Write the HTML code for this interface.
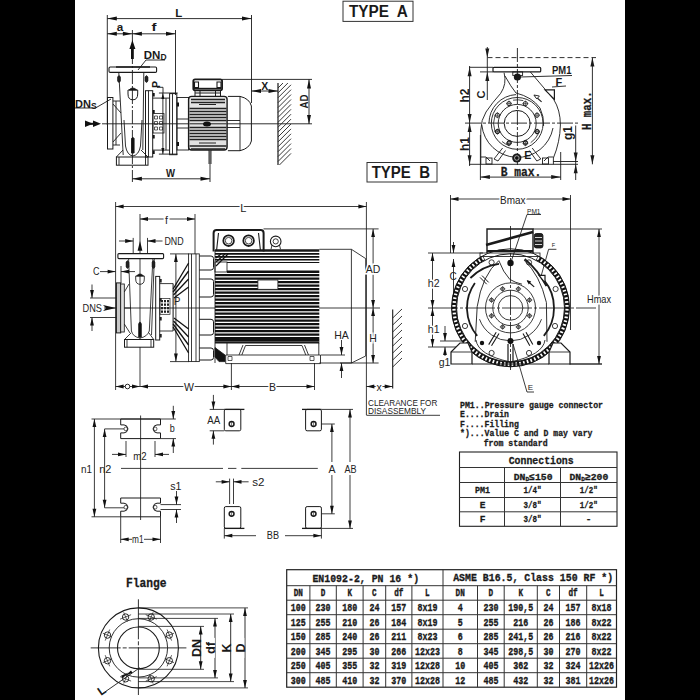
<!DOCTYPE html>
<html><head><meta charset="utf-8"><style>
html,body{margin:0;padding:0;background:#fff;width:700px;height:700px;overflow:hidden}
svg{display:block}
text{font-family:"Liberation Sans",sans-serif;fill:#1a1a1a}
.tb{font-family:"Liberation Mono",monospace;font-weight:bold;font-size:10.5px;fill:#1a1a1a;stroke:#1a1a1a;stroke-width:0.35}
.mono{font-family:"Liberation Mono",monospace;font-weight:bold;fill:#1a1a1a;stroke:#1a1a1a;stroke-width:0.3}
.bs{font-family:"Liberation Sans",sans-serif;font-weight:bold;fill:#1a1a1a}
.th{font-family:"Liberation Sans",sans-serif;fill:#222}
.ln{stroke:#222;fill:none}
</style></head><body>
<svg width="700" height="700" viewBox="0 0 700 700">
<!-- bars -->
<rect x="0" y="0" width="75" height="700" fill="#000"/>
<rect x="625" y="0" width="75" height="700" fill="#000"/>

<!-- typeA -->
<g stroke="#1a1a1a" fill="none" stroke-width="0.9">
<!-- dimension L -->
<line x1="107.3" y1="15" x2="107.3" y2="125"/>
<line x1="107.3" y1="18.6" x2="251.5" y2="18.6"/>
<line x1="251.5" y1="15" x2="251.5" y2="103"/>
<!-- a, f -->
<line x1="107.3" y1="33.8" x2="175.5" y2="33.8"/>
<line x1="175.5" y1="30" x2="175.5" y2="95"/>
<line x1="132.4" y1="30" x2="132.4" y2="182" stroke-dasharray="14,2,2,2"/>
<!-- DND leader -->
<polyline points="138,70 146,60 165,60"/>
<!-- DNs leader -->
<polyline points="75,108 95.5,108 111,99"/>
<!-- X -->
<line x1="251.5" y1="91" x2="278" y2="91"/>
<!-- AD -->
<line x1="222" y1="79.4" x2="312" y2="79.4"/>
<line x1="309" y1="79.4" x2="309" y2="124"/>
<!-- center line -->
<line x1="102" y1="123.8" x2="312" y2="123.8"/>
<!-- W -->
<line x1="132.4" y1="178.8" x2="210" y2="178.8"/>
<line x1="210" y1="151" x2="210" y2="182"/>
<!-- wall -->
<line x1="278" y1="83" x2="278" y2="165" stroke-width="1.2"/>
<!-- pump: discharge flange -->
<rect x="109" y="67" width="47.6" height="5.4" rx="1.2" stroke-width="1.1"/>
<line x1="116" y1="67" x2="150" y2="67" stroke-width="1.3"/>
<!-- neck -->
<path d="M118.8 72.4 L123.2 155 M143.8 72.4 L142.8 150"/>
<path d="M117.5 77 q1.5 -3 3 0 v4 q-1.5 3 -3 0 z M145 77 q1.5 -3 3 0 v4 q-1.5 3 -3 0 z" fill="#222" stroke-width="0.6"/>
<!-- bucket drop -->
<path d="M128 90 L137.7 90 L137.7 94 Q137.7 99.8 132.8 99.8 Q128 99.8 128 94 Z" stroke-width="1"/>
<path d="M129 90 Q132.8 86 136.7 90 Z" fill="#111"/>
<!-- suction flange -->
<rect x="107.5" y="97.5" width="5.4" height="51.5" stroke-width="1"/>
<path d="M112.9 101 L120 101 M112.9 145 L120 145 M113 104 L121 113 M113 142 L121 133 M116 101 L116 145"/>
<!-- volute bottom U -->
<path d="M124 120 L125.5 146 Q127 155 132.8 156 Q139 155 140.5 146 L142 120"/>
<path d="M131.5 138.6 Q132.8 136 134.1 138.6 L134.1 153 L131.5 153 Z" fill="#111"/>
<!-- casing flange -->
<rect x="145.5" y="90.7" width="7.2" height="66.3" stroke-width="1"/>
<line x1="148.5" y1="90.7" x2="148.5" y2="157"/>
<!-- foot -->
<rect x="116.4" y="157" width="31.6" height="8.2" stroke-width="1"/>
<path d="M119 157 L119 165 M145.5 157 L145.5 165"/>
<path d="M116.4 157 L123 150 M148 157 L141 150"/>
<!-- bracket -->
<path d="M152.7 98.1 L169.6 98.1 M152.7 150.1 L169.6 150.1 M166 98.1 L166 150.1"/>
<line x1="162.9" y1="93" x2="162.9" y2="154.1"/>
<line x1="158.9" y1="93" x2="177.7" y2="93"/>
<line x1="158.9" y1="154.1" x2="177.7" y2="154.1"/>
<path d="M157 87.3 L163 87.3 L163 93" stroke-width="0.9"/>
<rect x="153" y="113.6" width="11" height="19.4" stroke-width="0.8"/>
<path d="M154.5 116 h3 v3 h-3 z M159.5 116 h3 v3 h-3 z M154.5 121.5 h3 v3 h-3 z M159.5 121.5 h3 v3 h-3 z M154.5 127 h3 v3 h-3 z M159.5 127 h3 v3 h-3 z" stroke-width="0.7"/>
<!-- flange2 -->
<rect x="169.6" y="93.6" width="7.2" height="61.1" stroke-width="1"/>
<line x1="172.5" y1="93.6" x2="172.5" y2="154.7"/>
<!-- adapter -->
<rect x="177" y="97.5" width="11.6" height="52.5"/>
<line x1="177" y1="119" x2="188.6" y2="119"/><line x1="177" y1="128" x2="188.6" y2="128"/>
<!-- motor body -->
<rect x="188.6" y="96.4" width="38.5" height="53.6" rx="3" stroke-width="1.4" fill="#e2e2e2"/>
<!-- terminal box -->
<rect x="193.3" y="79.3" width="28.8" height="11" rx="1.8" stroke-width="1.8"/>
<line x1="194" y1="88.6" x2="221.5" y2="88.6" stroke-width="1.6"/>
<path d="M194.5 82 h4 v5.5 h-4 z M217 82 h4 v5.5 h-4 z" stroke-width="1.1"/>
<path d="M195 90.5 v5.5 M200 90.5 v5.5 M215.5 90.5 v5.5 M220.5 90.5 v5.5 M195 93 h25.5" stroke-width="1"/>
<!-- fan cover -->
<path d="M227.9 96.4 L240 96.4 Q249.5 98.5 251.4 106 L251.4 141 Q249.5 148.5 240 150.7 L227.9 150.7" stroke-width="1"/>
<line x1="240" y1="96.4" x2="240" y2="150.7"/>
<line x1="227" y1="120.5" x2="240" y2="120.5"/><line x1="227" y1="127.5" x2="240" y2="127.5"/>
<!-- shaft stub below -->
<path d="M209 150 v14 M211 150 v14"/>
</g>
<!-- motor fins -->
<g stroke="#222" stroke-width="1.5">
<line x1="191" y1="99.5" x2="225" y2="99.5"/>
<line x1="191" y1="102.5" x2="225" y2="102.5"/>
<line x1="189.5" y1="108.5" x2="226.5" y2="108.5"/>
<line x1="189.5" y1="111.5" x2="226.5" y2="111.5"/>
<line x1="189.5" y1="114.5" x2="226.5" y2="114.5"/>
<line x1="189.5" y1="117.5" x2="226.5" y2="117.5"/>
<line x1="189.5" y1="120.5" x2="226.5" y2="120.5"/>
<line x1="189.5" y1="127.5" x2="226.5" y2="127.5"/>
<line x1="189.5" y1="130.5" x2="226.5" y2="130.5"/>
<line x1="189.5" y1="133.5" x2="226.5" y2="133.5"/>
<line x1="189.5" y1="136.5" x2="226.5" y2="136.5"/>
<line x1="189.5" y1="139.5" x2="226.5" y2="139.5"/>
<line x1="189.5" y1="146" x2="226.5" y2="146"/><line x1="191" y1="149" x2="225" y2="149"/>
<path d="M199 104.5 h17 M199 143 h17" stroke-width="1"/><line x1="189.5" y1="123.8" x2="226.5" y2="123.8" stroke-width="1"/>
</g>
<ellipse cx="207" cy="124" rx="4" ry="2.5" fill="#111"/>
<g fill="#111"><rect x="152.7" y="93" width="2" height="3.5"/><rect x="152.7" y="110" width="2" height="3.5"/><rect x="152.7" y="135" width="2" height="3.5"/><rect x="152.7" y="150.5" width="2" height="3.5"/>
<rect x="176.8" y="102.5" width="2.2" height="4"/><rect x="176.8" y="142" width="2.2" height="4"/></g>
<!-- hatch wall -->
<g stroke="#222" stroke-width="0.9">
<line x1="278" y1="88" x2="283" y2="83"/>
<line x1="278" y1="92.9" x2="287.9" y2="83"/>
<line x1="278" y1="97.80000000000001" x2="291" y2="84.80000000000001"/>
<line x1="278" y1="102.70000000000002" x2="291" y2="89.70000000000002"/>
<line x1="278" y1="107.60000000000002" x2="291" y2="94.60000000000002"/>
<line x1="278" y1="112.50000000000003" x2="291" y2="99.50000000000003"/>
<line x1="278" y1="117.40000000000003" x2="291" y2="104.40000000000003"/>
<line x1="278" y1="122.30000000000004" x2="291" y2="109.30000000000004"/>
<line x1="278" y1="127.20000000000005" x2="291" y2="114.20000000000005"/>
<line x1="278" y1="132.10000000000005" x2="291" y2="119.10000000000005"/>
<line x1="278" y1="137.00000000000006" x2="291" y2="124.00000000000006"/>
<line x1="278" y1="141.90000000000006" x2="291" y2="128.90000000000006"/>
<line x1="278" y1="146.80000000000007" x2="291" y2="133.80000000000007"/>
<line x1="278" y1="151.70000000000007" x2="291" y2="138.70000000000007"/>
<line x1="278" y1="156.60000000000008" x2="291" y2="143.60000000000008"/>
<line x1="278" y1="161.50000000000009" x2="291" y2="148.50000000000009"/>
<line x1="279.4000000000001" y1="165" x2="291" y2="153.4000000000001"/>
</g>
<!-- arrows -->
<g fill="#111">
<path d="M107.3 18.6 l9.5 -2 v4 z"/><path d="M251.5 18.6 l-9.5 -2 v4 z"/>
<path d="M107.3 33.8 l9.5 -2 v4 z"/><path d="M132.4 33.8 l-9.5 -2 v4 z"/><path d="M132.4 33.8 l9.5 -2 v4 z"/><path d="M175.5 33.8 l-9.5 -2 v4 z"/>
<path d="M132.4 40 l-3 9 h6 z"/><rect x="131" y="48" width="2.8" height="11"/>
<path d="M85 120.5 l8 3.3 l-8 3.3 z"/><path d="M93 120.5 l8 3.3 l-8 3.3 z"/><rect x="85" y="122.8" width="8" height="2"/>
<path d="M251.5 91 l9.5 -2 v4 z"/><path d="M278 91 l-9.5 -2 v4 z"/>
<path d="M309 79.4 l-2 9 h4 z"/><path d="M309 124 l-2 -9 h4 z"/>
<path d="M132.4 178.8 l9.5 -2 v4 z"/><path d="M210 178.8 l-9.5 -2 v4 z"/>
<path d="M162.9 93 l-1.5 6 h3 z"/><path d="M162.9 154.1 l-1.5 -6 h3 z"/>
</g>
<g class="bs">
<text x="178.7" y="17" font-size="11" text-anchor="middle" class="bs" textLength="7" lengthAdjust="spacingAndGlyphs">L</text>
<text x="120" y="31" font-size="11" text-anchor="middle" class="bs" textLength="6.5" lengthAdjust="spacingAndGlyphs">a</text>
<text x="154" y="31" font-size="11" text-anchor="middle" class="bs" textLength="5" lengthAdjust="spacingAndGlyphs">f</text>
<text x="143.8" y="59" font-size="11.5" class="bs">DN<tspan font-size="8.5" dy="1">D</tspan></text>
<text x="75" y="108" font-size="11" class="bs">DN<tspan font-size="8.5" dy="1">S</tspan></text>
<text x="264.8" y="89.7" font-size="10" text-anchor="middle" class="bs" textLength="7" lengthAdjust="spacingAndGlyphs">X</text>
<text x="170.5" y="177" font-size="11" text-anchor="middle" class="bs" textLength="9" lengthAdjust="spacingAndGlyphs">W</text>
<text transform="translate(307.7,101.5) rotate(-90)" font-size="10.5" text-anchor="middle" class="bs" textLength="14" lengthAdjust="spacingAndGlyphs">AD</text>
<text transform="translate(159.5,84.5) rotate(-90)" font-size="10.5" text-anchor="middle" class="bs">P</text>
</g>

<!-- typeAend -->
<g stroke="#1a1a1a" fill="none" stroke-width="0.9">
<!-- dims -->
<line x1="487.5" y1="57.6" x2="596" y2="57.6" stroke-dasharray="5,3"/>
<line x1="469" y1="67.3" x2="493" y2="67.3"/>
<line x1="480" y1="71.9" x2="493" y2="71.9"/>
<line x1="487.3" y1="47" x2="487.3" y2="100"/>
<line x1="469.6" y1="66" x2="469.6" y2="166"/>
<line x1="465" y1="123.1" x2="580" y2="123.1" stroke-dasharray="16,2,3,2"/>
<line x1="469" y1="164.3" x2="578" y2="164.3"/>
<line x1="553" y1="161.5" x2="578" y2="161.5"/>
<line x1="592.4" y1="57.6" x2="592.4" y2="164.3"/>
<line x1="575.7" y1="125.5" x2="575.7" y2="180"/>
<line x1="480.4" y1="135" x2="480.4" y2="180"/>
<line x1="560.7" y1="152" x2="560.7" y2="180"/>
<line x1="480.4" y1="177.1" x2="560.7" y2="177.1"/>
<line x1="517.4" y1="48" x2="517.4" y2="165" stroke-dasharray="14,2,3,2"/>
<!-- flange -->
<rect x="493" y="67.3" width="47.7" height="4.6" rx="1" stroke-width="1.2"/>
<!-- volute outer -->
<path d="M504.1 72.7 Q507 84 500.7 93.3 Q492 103 486 112 Q481 120 480.8 130 L480.8 164.3"/>
<path d="M530.4 72 L553.6 99.3 Q560.4 110 560.4 125 Q560 142 553.4 158 L553.4 164.3"/>
<!-- tongue spiral -->
<path d="M505 76 Q511 87 516 93 Q532 97 540 108 Q544 116 543.6 126"/>
<!-- circle r36 bottom & r28.5 top left -->
<path d="M481.8 125 A36 36 0 0 0 553 128"/>
<path d="M489 123 A28.5 28.5 0 0 1 516 94.6"/>
<circle cx="517.2" cy="123.4" r="25.9"/>
<path d="M495.0 131.5 A23.6 23.6 0 0 1 495.0 115.3 M513.1 100.2 A23.6 23.6 0 0 1 523.3 100.6 M538.6 133.4 A23.6 23.6 0 0 1 530.7 142.7 M509.1 145.6 A23.6 23.6 0 0 1 502.0 141.5" stroke-width="0.8"/>
<circle cx="517.2" cy="123.4" r="19"/>
<circle cx="517.2" cy="123.4" r="13" stroke-width="1"/>
<!-- struts -->
<path d="M502.6 148 L494 159 L498 161 L505.5 150.5 M532.2 148 L540.8 159 L536.8 161 L529.3 150.5"/>
<path d="M480.8 157 L486 157 L490 161 M553.4 157 L548 157 L544 161"/>
<!-- F nozzle -->
<path d="M545 89.8 L554.4 89.8 L554.4 99.3 Z" fill="#fff" stroke-width="1.2"/>
<line x1="541.6" y1="101.8" x2="535" y2="96" stroke-width="1.1"/>
<path d="M533.9 95 l5.5 1 l-2.6 3 z" fill="#fff"/>
<!-- leaders -->
<line x1="520" y1="77" x2="572" y2="75.5"/>
<line x1="552" y1="87" x2="566" y2="86"/>
</g>
<g fill="#1a1a1a">
<circle cx="517.4" cy="77" r="3.6"/>
<rect x="512.8" y="71.9" width="9.8" height="3.5" fill="none" stroke="#1a1a1a" stroke-width="0.9"/>
<circle cx="516.8" cy="158" r="4.6"/>
<circle cx="516.8" cy="158" r="2.3" fill="#111" stroke="#fff" stroke-width="0.6"/>
<g stroke="#1a1a1a" stroke-width="0.9" fill="none">
<circle cx="537.0" cy="131.6" r="2.1"/><path d="M534.0 131.6 h6 M537.0 128.6 v6" stroke-width="0.6"/><circle cx="525.4" cy="143.2" r="2.1"/><path d="M522.4 143.2 h6 M525.4 140.2 v6" stroke-width="0.6"/><circle cx="509.0" cy="143.2" r="2.1"/><path d="M506.0 143.2 h6 M509.0 140.2 v6" stroke-width="0.6"/><circle cx="497.4" cy="131.6" r="2.1"/><path d="M494.4 131.6 h6 M497.4 128.6 v6" stroke-width="0.6"/><circle cx="497.4" cy="115.2" r="2.1"/><path d="M494.4 115.2 h6 M497.4 112.2 v6" stroke-width="0.6"/><circle cx="509.0" cy="103.6" r="2.1"/><path d="M506.0 103.6 h6 M509.0 100.6 v6" stroke-width="0.6"/><circle cx="525.4" cy="103.6" r="2.1"/><path d="M522.4 103.6 h6 M525.4 100.6 v6" stroke-width="0.6"/><circle cx="537.0" cy="115.2" r="2.1"/><path d="M534.0 115.2 h6 M537.0 112.2 v6" stroke-width="0.6"/>
<circle cx="537.3" cy="131.6" r="2"/><circle cx="525.5" cy="142.4" r="2"/><circle cx="509.3" cy="142.4" r="2"/><circle cx="497.5" cy="131.6" r="2"/>
<rect x="486" y="158" width="6" height="6"/><rect x="542.5" y="158" width="6" height="6"/>
</g>
<!-- arrows -->
<path d="M469.6 67.3 l-2 9 h4 z"/><path d="M469.6 123.1 l-2 -9 h4 z"/><path d="M469.6 123.1 l-2 9 h4 z"/><path d="M469.6 164.3 l-2 -9 h4 z"/>
<path d="M592.4 57.6 l-2 9 h4 z"/><path d="M592.4 164.3 l-2 -9 h4 z"/>
<path d="M487.3 57.6 l-2 -9 h4 z"/><path d="M487.3 71.9 l-2 9 h4 z"/>
<path d="M575.7 161.5 l-2 -9 h4 z"/><path d="M575.7 164.3 l-2 9 h4 z"/>
<path d="M480.4 177.1 l9.5 -2 v4 z"/><path d="M560.7 177.1 l-9.5 -2 v4 z"/>
</g>
<g>
<text transform="translate(469.3,95.5) rotate(-90)" font-size="12" text-anchor="middle" class="bs">h2</text>
<text transform="translate(469.3,144) rotate(-90)" font-size="12" text-anchor="middle" class="bs">h1</text>
<text transform="translate(485.3,94.5) rotate(-90)" font-size="11" text-anchor="middle" class="bs">C</text>
<text transform="translate(571.5,133) rotate(-90)" font-size="12" text-anchor="middle" class="bs">g1</text>
<text transform="translate(590.7,110.7) rotate(-90)" font-size="13.5" text-anchor="middle" class="mono" textLength="38.6" lengthAdjust="spacingAndGlyphs" style="white-space:pre">H max.</text>
<text x="500.7" y="175.8" font-size="13.5" class="mono" textLength="40.7" lengthAdjust="spacingAndGlyphs">B max.</text>
<text x="552" y="74.3" font-size="11.5" class="bs" textLength="19.4" lengthAdjust="spacingAndGlyphs">PM1</text>
<text x="555.4" y="86" font-size="11" class="bs">F</text>
<text x="524.3" y="158.5" font-size="10.5" class="bs">E</text>
</g>

<!-- typeB -->
<g stroke="#1a1a1a" fill="none" stroke-width="0.85">
<line x1="115.6" y1="202" x2="115.6" y2="390"/>
<line x1="115.6" y1="206.5" x2="366.4" y2="206.5"/>
<line x1="366.4" y1="202" x2="366.4" y2="415"/>
<line x1="140" y1="214" x2="140" y2="253.6"/><line x1="140" y1="258.6" x2="140" y2="339"/><line x1="140" y1="347" x2="140" y2="386.5"/>
<line x1="140" y1="219" x2="195" y2="219"/>
<line x1="195" y1="214" x2="195" y2="254"/>
<line x1="119" y1="241" x2="133.2" y2="241"/><line x1="147.5" y1="241" x2="162.5" y2="241"/><line x1="133.2" y1="237.9" x2="133.2" y2="253.2"/><line x1="147.5" y1="237.9" x2="147.5" y2="253.2"/>

<line x1="100" y1="271.6" x2="115.6" y2="271.6"/><line x1="121" y1="271.6" x2="135" y2="271.6"/>
<line x1="121" y1="266" x2="121" y2="283"/>
<line x1="90" y1="298" x2="117" y2="298"/><line x1="90" y1="317.5" x2="117" y2="317.5"/>
<line x1="92" y1="284.5" x2="92" y2="298"/><line x1="92" y1="317.5" x2="92" y2="331"/>
<line x1="104" y1="308" x2="215" y2="308"/><line x1="319" y1="308" x2="380" y2="308"/>
<line x1="115.6" y1="386.5" x2="314.5" y2="386.5"/><line x1="366.4" y1="386.5" x2="392.7" y2="386.5"/>
<line x1="231.4" y1="363" x2="231.4" y2="390"/>
<line x1="314.5" y1="363" x2="314.5" y2="390"/>
<line x1="263.5" y1="228.9" x2="378.6" y2="228.9"/>
<line x1="373.1" y1="228.9" x2="373.1" y2="363"/>
<line x1="340" y1="363" x2="378.6" y2="363"/>
<line x1="321" y1="355" x2="345" y2="355"/>
<line x1="341.5" y1="340" x2="341.5" y2="355"/><line x1="341.5" y1="363" x2="341.5" y2="378"/>
<line x1="392.7" y1="309.5" x2="392.7" y2="388.4" stroke-width="1.1"/>
<line x1="392.7" y1="318" x2="402" y2="309"/>
<line x1="392.7" y1="325" x2="402" y2="316"/>
<line x1="392.7" y1="332" x2="402" y2="323"/>
<line x1="392.7" y1="339" x2="402" y2="330"/>
<line x1="392.7" y1="346" x2="402" y2="337"/>
<line x1="392.7" y1="353" x2="402" y2="344"/>
<line x1="392.7" y1="360" x2="402" y2="351"/>
<line x1="392.7" y1="367" x2="402" y2="358"/>
<line x1="366.4" y1="415.3" x2="440" y2="415.3"/>
<rect x="117.9" y="253.6" width="45.7" height="5" rx="1" stroke-width="1.1"/>
<path d="M128.6 258.6 L131.4 331 Q133 337 140 338 Q147 337 149.3 331 L152.9 258.6"/>
<path d="M154.3 258.6 L151.5 335"/>
<path d="M126 262 q1.5 -3 3 0 v5 q-1.5 3 -3 0 z M152 262 q1.5 -3 3 0 v5 q-1.5 3 -3 0 z" fill="#222" stroke-width="0.5"/>
<path d="M135.7 276 L144.3 276 L144.3 279 Q144.3 284.3 140 284.3 Q135.7 284.3 135.7 279 Z"/>
<path d="M136.5 276 Q140 272 143.5 276 Z" fill="#111"/>
<path d="M138.7 324 Q140 320 141.3 324 L141.3 337 L138.7 337 Z" fill="#111"/>
<rect x="116.4" y="282.9" width="4.3" height="50" fill="#c8c8c8" stroke-width="1"/>
<rect x="120.7" y="284" width="3.6" height="48" fill="#e0e0e0"/>
<path d="M124.3 292 L129 284 M124.3 324 L130 333 M124.3 308 L131 308"/>
<rect x="155.7" y="276.4" width="4" height="63.6" stroke-width="1"/>
<rect x="124.5" y="339.5" width="29.2" height="7.7" stroke-width="1"/>
<path d="M127 339.5 L127 347.2 M151 339.5 L151 347.2 M124.5 339.5 L131 333 M153.7 339.5 L149 333"/>
<path d="M159.7 283.6 L173.1 283.6 M159.7 331 L173.1 331"/>
<rect x="160" y="298.6" width="10" height="15.7" stroke-width="0.7"/>
<line x1="175.9" y1="254" x2="175.9" y2="361.6"/>
<line x1="170" y1="253.9" x2="189" y2="253.9"/><line x1="170" y1="361.6" x2="189" y2="361.6"/>
<rect x="188.6" y="253.9" width="10.7" height="107.7"/>
<line x1="191.5" y1="253.9" x2="191.5" y2="361.6"/><line x1="196" y1="253.9" x2="196" y2="361.6"/>
<path d="M199.3 256 L211 256 Q213.5 256 213.5 258.5 L213.5 267.5 Q213.5 270 211 270 L199.3 270" stroke-width="1"/>
<path d="M199.3 279 L211 279 Q213.5 279 213.5 281.5 L213.5 294.5 Q213.5 297 211 297 L199.3 297" stroke-width="1"/>
<path d="M199.3 319.3 L211 319.3 Q213.5 319.3 213.5 321.8 L213.5 332.5 Q213.5 335 211 335 L199.3 335" stroke-width="1"/>
<path d="M199.3 348 L211 348 Q213.5 348 213.5 350.5 L213.5 357.5 Q213.5 360 211 360 L199.3 360" stroke-width="1"/>
<path d="M213.6 251.4 L213.6 233 Q213.6 230 216.6 230 L260.6 230 Q263.6 230 263.6 233 L263.6 251.4" stroke-width="2"/>
<path d="M218.5 233 L216.5 251 M258.5 233 L260.5 251" stroke-width="1.1"/>
<circle cx="228.6" cy="240.7" r="5.3" stroke-width="1.8"/><circle cx="228.6" cy="240.7" r="3.3" stroke-width="0.8"/>
<circle cx="248.6" cy="240.7" r="5.3" stroke-width="1.8"/><circle cx="248.6" cy="240.7" r="3.3" stroke-width="0.8"/>
<circle cx="275.7" cy="241.4" r="5.3" stroke-width="1.1"/><circle cx="275.7" cy="241.4" r="2.6"/>
<path d="M271 249.3 L272 245 M280.5 249.3 L279.5 245"/>
<line x1="215" y1="250.5" x2="319.3" y2="250.5" stroke-width="2.6"/>
<line x1="215" y1="250" x2="215" y2="363"/>
<rect x="215" y="262" width="12" height="10"/>
<path d="M319.3 249.3 L351.4 249.3 L365.7 258.6 L365.7 356 L351.4 363 L319.3 363"/>
<line x1="351.4" y1="249.3" x2="351.4" y2="363"/>
<path d="M225.7 363.6 L225.7 355 L320.5 355 L320.5 363.6 Z"/>
<path d="M227 343 L227 355 M318.8 343 L318.8 355 M241.8 355 L245.5 345.5 L302 345.5 L305.8 355 M239 355 L243 345 M308.5 355 L304.5 345"/>
<line x1="215" y1="342.6" x2="319.3" y2="342.6" stroke-width="2"/>
<path d="M215 347.6 L225 355 L225 361.6 L219 361.6 L215 357 Z" fill="#111"/>
<path d="M228 356.5 h4 v4 h-4 z M310 356.5 h4 v4 h-4 z" stroke-width="0.7"/>
</g>
<g stroke="#111" stroke-width="1.3">
<line x1="173.1" y1="289" x2="188.6" y2="263"/>
<line x1="173.1" y1="292" x2="188.6" y2="271"/>
<line x1="173.5" y1="295" x2="188.6" y2="279"/>
<line x1="174" y1="298" x2="188.6" y2="287"/>
<line x1="173.1" y1="327" x2="188.6" y2="353"/>
<line x1="173.1" y1="324" x2="188.6" y2="345"/>
<line x1="173.5" y1="321" x2="188.6" y2="337"/>
<line x1="174" y1="318" x2="188.6" y2="329"/>
<line x1="173.1" y1="283.6" x2="173.1" y2="331" stroke-width="1"/>
</g>
<g fill="#222">
<rect x="161" y="300.0" width="2" height="2.3"/>
<rect x="161" y="303.5" width="2" height="2.3"/>
<rect x="161" y="307.0" width="2" height="2.3"/>
<rect x="161" y="310.5" width="2" height="2.3"/>
<rect x="164" y="300.0" width="2" height="2.3"/>
<rect x="164" y="303.5" width="2" height="2.3"/>
<rect x="164" y="307.0" width="2" height="2.3"/>
<rect x="164" y="310.5" width="2" height="2.3"/>
<rect x="167" y="300.0" width="2" height="2.3"/>
<rect x="167" y="303.5" width="2" height="2.3"/>
<rect x="167" y="307.0" width="2" height="2.3"/>
<rect x="167" y="310.5" width="2" height="2.3"/>
<rect x="159.7" y="279" width="2" height="3.5"/><rect x="159.7" y="298" width="2" height="3.5"/><rect x="159.7" y="317" width="2" height="3.5"/><rect x="159.7" y="334" width="2" height="3.5"/>
</g>
<g stroke="#111">
<line x1="215" y1="253.8" x2="319.3" y2="253.8" stroke-width="1.8"/>
<line x1="215" y1="256.8" x2="319.3" y2="256.8" stroke-width="1.8"/>
<line x1="215" y1="259.8" x2="319.3" y2="259.8" stroke-width="1.6"/>
<line x1="227" y1="262.5" x2="319.3" y2="262.5" stroke-width="1"/>
<line x1="227" y1="271.8" x2="319.3" y2="271.8" stroke-width="2.6"/>
<line x1="215" y1="275.2" x2="319.3" y2="275.2" stroke-width="2.2"/>
<line x1="215" y1="278.7" x2="319.3" y2="278.7" stroke-width="2.2"/>
<line x1="215" y1="282.2" x2="319.3" y2="282.2" stroke-width="2.2"/>
<line x1="215" y1="285.7" x2="319.3" y2="285.7" stroke-width="2.2"/>
<line x1="215" y1="289.2" x2="319.3" y2="289.2" stroke-width="2.2"/>
<line x1="215" y1="292.7" x2="319.3" y2="292.7" stroke-width="2.2"/>
<line x1="215" y1="296.2" x2="319.3" y2="296.2" stroke-width="2.2"/>
<line x1="215" y1="299.7" x2="319.3" y2="299.7" stroke-width="2.2"/>
<line x1="215" y1="303.2" x2="319.3" y2="303.2" stroke-width="2.2"/>
<line x1="215" y1="306.7" x2="319.3" y2="306.7" stroke-width="2.2"/>
<line x1="215" y1="310.2" x2="319.3" y2="310.2" stroke-width="2.2"/>
<line x1="215" y1="313.7" x2="319.3" y2="313.7" stroke-width="2.2"/>
<line x1="215" y1="317.2" x2="319.3" y2="317.2" stroke-width="2.2"/>
<line x1="215" y1="320.7" x2="319.3" y2="320.7" stroke-width="2.2"/>
<line x1="215" y1="324.2" x2="319.3" y2="324.2" stroke-width="2.2"/>
<line x1="215" y1="327.7" x2="319.3" y2="327.7" stroke-width="2.2"/>
<line x1="215" y1="331.2" x2="319.3" y2="331.2" stroke-width="2.2"/>
<line x1="215" y1="334.7" x2="319.3" y2="334.7" stroke-width="2.2"/>
<line x1="215" y1="338.2" x2="319.3" y2="338.2" stroke-width="2.2"/>
<line x1="215" y1="340.2" x2="319.3" y2="340.2" stroke-width="2.6"/>
<path d="M216 262 L225 254 M216 258 L221 254 M216 266 L228 254" stroke-width="1.2"/>
</g>
<rect x="257.9" y="280" width="20" height="9.3" fill="#fff" stroke="#222" stroke-width="0.8"/>
<g fill="#111">
<path d="M115.6 206.5 l8 -1.9 v3.8 z"/>
<path d="M366.4 206.5 l-8 -1.9 v3.8 z"/>
<path d="M140 219 l8 -1.9 v3.8 z"/>
<path d="M195 219 l-8 -1.9 v3.8 z"/>
<path d="M133.2 241 l-8 -1.9 v3.8 z"/>
<path d="M147.5 241 l8 -1.9 v3.8 z"/>
<path d="M115.6 271.6 l-8 -1.9 v3.8 z"/>
<path d="M121 271.6 l8 -1.9 v3.8 z"/>
<path d="M92 298 l-1.9 -8 h3.8 z"/>
<path d="M92 317.5 l-1.9 8 h3.8 z"/>
<path d="M116 308 l-13 -3 l3 3 l-3 3 z"/>
<path d="M140 241 l-2.4 9.7 h4.8 z"/>
<path d="M175.9 254 l-1.9 8 h3.8 z"/>
<path d="M175.9 361.6 l-1.9 -8 h3.8 z"/>
<path d="M373.1 228.9 l-1.9 8 h3.8 z"/>
<path d="M373.1 308 l-1.9 -8 h3.8 z"/>
<path d="M373.1 308 l-1.9 8 h3.8 z"/>
<path d="M373.1 363 l-1.9 -8 h3.8 z"/>
<path d="M341.5 355 l-1.9 -8 h3.8 z"/>
<path d="M341.5 363 l-1.9 8 h3.8 z"/>
<path d="M115.6 386.5 l8 -1.9 v3.8 z"/>
<path d="M140 386.5 l-8 -1.9 v3.8 z"/>
<path d="M140 386.5 l8 -1.9 v3.8 z"/>
<path d="M231.4 386.5 l-8 -1.9 v3.8 z"/>
<path d="M231.4 386.5 l8 -1.9 v3.8 z"/>
<path d="M314.5 386.5 l-8 -1.9 v3.8 z"/>
<path d="M366.4 386.5 l8 -1.9 v3.8 z"/>
<path d="M392.7 386.5 l-8 -1.9 v3.8 z"/>
</g>
<text x="243.4" y="211.5" font-size="11" class="th" text-anchor="middle" stroke="#fff" stroke-width="3" paint-order="stroke">L</text>
<text x="166.5" y="223.5" font-size="10.5" class="th" text-anchor="middle" stroke="#fff" stroke-width="3" paint-order="stroke">f</text>
<text x="164.4" y="245.2" font-size="11" class="th" textLength="19.2" lengthAdjust="spacingAndGlyphs">DND</text>
<text x="93" y="274.6" font-size="10" class="th" textLength="6.5" lengthAdjust="spacingAndGlyphs">C</text>
<text x="82.5" y="312.4" font-size="11" class="th" textLength="19.5" lengthAdjust="spacingAndGlyphs">DNS</text>
<text x="177" y="305" font-size="10" class="th" text-anchor="middle" >P</text>
<text x="373.1" y="272.5" font-size="10.5" class="th" text-anchor="middle" stroke="#fff" stroke-width="3" paint-order="stroke">AD</text>
<text x="373.1" y="341.5" font-size="10.5" class="th" text-anchor="middle" stroke="#fff" stroke-width="3" paint-order="stroke">H</text>
<text x="341.5" y="338.5" font-size="10.5" class="th" text-anchor="middle" >HA</text>
<circle cx="127.5" cy="386.5" r="2.3" fill="#fff" stroke="#111" stroke-width="0.9"/>
<text x="189" y="390.5" font-size="10.5" class="th" text-anchor="middle" stroke="#fff" stroke-width="3" paint-order="stroke">W</text>
<text x="272.5" y="390.5" font-size="10.5" class="th" text-anchor="middle" stroke="#fff" stroke-width="3" paint-order="stroke">B</text>
<text x="379" y="390.5" font-size="10.5" class="th" text-anchor="middle" stroke="#fff" stroke-width="3" paint-order="stroke">x</text>
<text x="368" y="406.4" font-size="8.4" class="th" textLength="69.3" lengthAdjust="spacingAndGlyphs">CLEARANCE FOR</text>
<text x="368" y="414" font-size="8.4" class="th" textLength="58" lengthAdjust="spacingAndGlyphs">DISASSEMBLY</text>
<!-- typeBend -->
<g stroke="#1a1a1a" fill="none" stroke-width="0.85">
<line x1="450.5" y1="195" x2="450.5" y2="253"/><line x1="570.5" y1="195" x2="570.5" y2="330"/>
<line x1="450.5" y1="199" x2="570.5" y2="199"/>
<line x1="533" y1="229" x2="602" y2="229"/><line x1="569" y1="364" x2="602" y2="364"/>
<line x1="599" y1="229" x2="599" y2="364"/>
<line x1="428" y1="253" x2="483" y2="253"/>
<line x1="432.5" y1="253" x2="432.5" y2="347"/>
<line x1="428" y1="308" x2="596" y2="308" stroke-dasharray="30,2,3,2"/>
<line x1="428" y1="347" x2="468" y2="347"/><line x1="440" y1="341" x2="468" y2="341"/>
<line x1="445" y1="326" x2="445" y2="341"/><line x1="445" y1="347" x2="445" y2="356"/>
<line x1="453.5" y1="242" x2="453.5" y2="253"/><line x1="453.5" y1="259" x2="453.5" y2="300"/>
<line x1="510.5" y1="226" x2="510.5" y2="370" stroke-dasharray="25,2,3,2"/>
<line x1="511" y1="262" x2="527" y2="214.5"/><line x1="527" y1="214.5" x2="541" y2="214.5"/>
<polyline points="556.4,249.3 548.6,249.3 541.4,275"/>
<polyline points="513,344 527,392 534,392"/>
<path d="M487 253 L487 229 L533 229 L533 253" stroke-width="1.4"/>
<line x1="486" y1="245" x2="533" y2="232" stroke-width="2.5"/>
<line x1="487" y1="251" x2="533" y2="251" stroke-width="2"/>
<rect x="534.3" y="233.6" width="8.6" height="14.3" rx="2" fill="#222" stroke-width="1"/><path d="M535 237.5 h7 M535 241 h7 M535 244.5 h7" stroke="#fff" stroke-width="0.8"/>
<rect x="480" y="253" width="60" height="3.5"/>
<circle cx="510.5" cy="307.8" r="59" stroke-width="1"/>
<circle cx="510.5" cy="307.8" r="54" stroke-width="1"/>
</g>
<path d="M484.0 257.9 A56.5 56.5 0 1 0 537.0 257.9" stroke="#111" stroke-width="5" fill="none"/>
<g stroke="#fff" stroke-width="1.7">
<line x1="565.4" y1="309.7" x2="568.6" y2="309.8"/>
<line x1="565.1" y1="313.4" x2="568.3" y2="313.7"/>
<line x1="564.6" y1="317.1" x2="567.8" y2="317.7"/>
<line x1="563.8" y1="320.8" x2="566.9" y2="321.6"/>
<line x1="562.8" y1="324.4" x2="565.9" y2="325.4"/>
<line x1="561.6" y1="327.9" x2="564.5" y2="329.1"/>
<line x1="560.1" y1="331.4" x2="563.0" y2="332.8"/>
<line x1="558.4" y1="334.7" x2="561.1" y2="336.3"/>
<line x1="556.4" y1="337.9" x2="559.1" y2="339.7"/>
<line x1="554.2" y1="341.0" x2="556.8" y2="342.9"/>
<line x1="551.9" y1="343.9" x2="554.3" y2="346.0"/>
<line x1="549.3" y1="346.6" x2="551.6" y2="348.9"/>
<line x1="546.6" y1="349.2" x2="548.7" y2="351.6"/>
<line x1="543.7" y1="351.5" x2="545.6" y2="354.1"/>
<line x1="540.6" y1="353.7" x2="542.4" y2="356.4"/>
<line x1="537.4" y1="355.7" x2="539.0" y2="358.4"/>
<line x1="534.1" y1="357.4" x2="535.5" y2="360.3"/>
<line x1="530.6" y1="358.9" x2="531.8" y2="361.8"/>
<line x1="527.1" y1="360.1" x2="528.1" y2="363.2"/>
<line x1="523.5" y1="361.1" x2="524.3" y2="364.2"/>
<line x1="519.8" y1="361.9" x2="520.4" y2="365.1"/>
<line x1="516.1" y1="362.4" x2="516.4" y2="365.6"/>
<line x1="512.4" y1="362.7" x2="512.5" y2="365.9"/>
<line x1="508.6" y1="362.7" x2="508.5" y2="365.9"/>
<line x1="504.9" y1="362.4" x2="504.6" y2="365.6"/>
<line x1="501.2" y1="361.9" x2="500.6" y2="365.1"/>
<line x1="497.5" y1="361.1" x2="496.7" y2="364.2"/>
<line x1="493.9" y1="360.1" x2="492.9" y2="363.2"/>
<line x1="490.4" y1="358.9" x2="489.2" y2="361.8"/>
<line x1="486.9" y1="357.4" x2="485.5" y2="360.3"/>
<line x1="483.6" y1="355.7" x2="482.0" y2="358.4"/>
<line x1="480.4" y1="353.7" x2="478.6" y2="356.4"/>
<line x1="477.3" y1="351.5" x2="475.4" y2="354.1"/>
<line x1="474.4" y1="349.2" x2="472.3" y2="351.6"/>
<line x1="471.7" y1="346.6" x2="469.4" y2="348.9"/>
<line x1="469.1" y1="343.9" x2="466.7" y2="346.0"/>
<line x1="466.8" y1="341.0" x2="464.2" y2="342.9"/>
<line x1="464.6" y1="337.9" x2="461.9" y2="339.7"/>
<line x1="462.6" y1="334.7" x2="459.9" y2="336.3"/>
<line x1="460.9" y1="331.4" x2="458.0" y2="332.8"/>
<line x1="459.4" y1="327.9" x2="456.5" y2="329.1"/>
<line x1="458.2" y1="324.4" x2="455.1" y2="325.4"/>
<line x1="457.2" y1="320.8" x2="454.1" y2="321.6"/>
<line x1="456.4" y1="317.1" x2="453.2" y2="317.7"/>
<line x1="455.9" y1="313.4" x2="452.7" y2="313.7"/>
<line x1="455.6" y1="309.7" x2="452.4" y2="309.8"/>
<line x1="455.6" y1="305.9" x2="452.4" y2="305.8"/>
<line x1="455.9" y1="302.2" x2="452.7" y2="301.9"/>
<line x1="456.4" y1="298.5" x2="453.2" y2="297.9"/>
<line x1="457.2" y1="294.8" x2="454.1" y2="294.0"/>
<line x1="458.2" y1="291.2" x2="455.1" y2="290.2"/>
<line x1="459.4" y1="287.7" x2="456.5" y2="286.5"/>
<line x1="460.9" y1="284.2" x2="458.0" y2="282.8"/>
<line x1="462.6" y1="280.9" x2="459.9" y2="279.3"/>
<line x1="464.6" y1="277.7" x2="461.9" y2="275.9"/>
<line x1="466.8" y1="274.6" x2="464.2" y2="272.7"/>
<line x1="469.1" y1="271.7" x2="466.7" y2="269.6"/>
<line x1="471.7" y1="269.0" x2="469.4" y2="266.7"/>
<line x1="474.4" y1="266.4" x2="472.3" y2="264.0"/>
<line x1="477.3" y1="264.1" x2="475.4" y2="261.5"/>
<line x1="480.4" y1="261.9" x2="478.6" y2="259.2"/>
<line x1="483.6" y1="259.9" x2="482.0" y2="257.2"/>
<line x1="537.4" y1="259.9" x2="539.0" y2="257.2"/>
<line x1="540.6" y1="261.9" x2="542.4" y2="259.2"/>
<line x1="543.7" y1="264.1" x2="545.6" y2="261.5"/>
<line x1="546.6" y1="266.4" x2="548.7" y2="264.0"/>
<line x1="549.3" y1="269.0" x2="551.6" y2="266.7"/>
<line x1="551.9" y1="271.7" x2="554.3" y2="269.6"/>
<line x1="554.2" y1="274.6" x2="556.8" y2="272.7"/>
<line x1="556.4" y1="277.7" x2="559.1" y2="275.9"/>
<line x1="558.4" y1="280.9" x2="561.1" y2="279.3"/>
<line x1="560.1" y1="284.2" x2="563.0" y2="282.8"/>
<line x1="561.6" y1="287.7" x2="564.5" y2="286.5"/>
<line x1="562.8" y1="291.2" x2="565.9" y2="290.2"/>
<line x1="563.8" y1="294.8" x2="566.9" y2="294.0"/>
<line x1="564.6" y1="298.5" x2="567.8" y2="297.9"/>
<line x1="565.1" y1="302.2" x2="568.3" y2="301.9"/>
<line x1="565.4" y1="305.9" x2="568.6" y2="305.8"/>
</g>
<g stroke="#1a1a1a" fill="none" stroke-width="0.85">
<path d="M451 364 L451 352 L460 343 L468 343 L472 352 L472 364 Z" fill="#fff" stroke-width="1.2"/>
<path d="M549 364 L549 352 L553 343 L561 343 L570 352 L570 364 Z" fill="#fff" stroke-width="1.2"/>
<line x1="451" y1="352" x2="472" y2="352"/><line x1="549" y1="352" x2="570" y2="352"/>
<line x1="472" y1="364" x2="549" y2="364" stroke-width="1.2"/>
<line x1="570" y1="364" x2="602" y2="364"/>
<circle cx="491.6" cy="262.4" r="2.6"/>
<circle cx="529" cy="262.4" r="2.6"/>
<circle cx="465" cy="289" r="2.6"/>
<circle cx="555.6" cy="289" r="2.6"/>
<circle cx="465" cy="326" r="2.6"/>
<circle cx="555" cy="326" r="2.6"/>
<circle cx="491.6" cy="353" r="2.6"/>
<circle cx="529" cy="353" r="2.6"/>
<path d="M499 260.4 Q482 275 477.2 306.6 L475.2 341.8 M499 261 Q503 272 509.8 279.4 Q516 283 522 284.2 M524 260 Q540 275 546.4 302.5 L547 341.8" stroke-width="0.9"/>
<path d="M477.2 335.9 A43.5 43.5 0 0 1 474.9 282.9 M543.8 279.9 A43.5 43.5 0 0 1 543.8 335.9 M470.4 278 Q482 266 499 263.8 M524.7 259 Q538 270 546.4 286.2" stroke-width="1.8"/><path d="M541.5 319.2 A33 33 0 0 1 479.5 319.2"/>
<circle cx="510.5" cy="307.9" r="25"/>
<circle cx="510.5" cy="307.9" r="17.7"/><circle cx="529.5" cy="315.8" r="1.8"/><path d="M526.7 315.8 h5.6 M529.5 313.0 v5.6" stroke-width="0.6"/><circle cx="518.4" cy="326.9" r="1.8"/><path d="M515.6 326.9 h5.6 M518.4 324.1 v5.6" stroke-width="0.6"/><circle cx="502.6" cy="326.9" r="1.8"/><path d="M499.8 326.9 h5.6 M502.6 324.1 v5.6" stroke-width="0.6"/><circle cx="491.5" cy="315.8" r="1.8"/><path d="M488.7 315.8 h5.6 M491.5 313.0 v5.6" stroke-width="0.6"/><circle cx="491.5" cy="300.0" r="1.8"/><path d="M488.7 300.0 h5.6 M491.5 297.2 v5.6" stroke-width="0.6"/><circle cx="502.6" cy="288.9" r="1.8"/><path d="M499.8 288.9 h5.6 M502.6 286.1 v5.6" stroke-width="0.6"/><circle cx="518.4" cy="288.9" r="1.8"/><path d="M515.6 288.9 h5.6 M518.4 286.1 v5.6" stroke-width="0.6"/><circle cx="529.5" cy="300.0" r="1.8"/><path d="M526.7 300.0 h5.6 M529.5 297.2 v5.6" stroke-width="0.6"/>
<circle cx="510.5" cy="307.9" r="12.3"/>

<path d="M480 277.4 L486.7 284.2 M482 275.6 L488.7 282.4" stroke-width="1"/>
<path d="M496.2 332.3 L488.7 344.6 M499 333.5 L491.5 345.8 M526 332.3 L532.8 344.6 M523 333.5 L529.8 345.8" stroke-width="1.1"/>
<path d="M476 340 Q478 355 510.5 362 Q543 355 545 340"/>
<path d="M508 344 L508 362 M513 344 L513 362" stroke-width="1.2"/>
<path d="M539 275.4 L545 282.8 L545 275.4 Z" fill="#fff" stroke-width="1.2"/>
<line x1="534.2" y1="286.9" x2="527.5" y2="281" stroke-width="1.2"/>
</g>
<g fill="#111">
<circle cx="510.5" cy="263" r="3.2"/><circle cx="510.5" cy="341" r="3"/>
<circle cx="482" cy="343" r="2.2"/><circle cx="539" cy="343" r="2.2"/>
<path d="M450.5 199 l8 -1.9 v3.8 z"/>
<path d="M570.5 199 l-8 -1.9 v3.8 z"/>
<path d="M599 229 l-1.9 8 h3.8 z"/>
<path d="M599 364 l-1.9 -8 h3.8 z"/>
<path d="M432.5 253 l-1.9 8 h3.8 z"/>
<path d="M432.5 308 l-1.9 -8 h3.8 z"/>
<path d="M432.5 308 l-1.9 8 h3.8 z"/>
<path d="M432.5 347 l-1.9 -8 h3.8 z"/>
<path d="M445 341 l-1.9 -8 h3.8 z"/>
<path d="M445 347 l-1.9 8 h3.8 z"/>
<path d="M453.5 253 l-1.9 -8 h3.8 z"/>
<path d="M453.5 259 l-1.9 8 h3.8 z"/>
<path d="M526.7 280.1 l2 4.5 l2.5 -3 z"/>
</g>
<text x="500" y="203.5" font-size="10.5" class="th" textLength="25.5" lengthAdjust="spacingAndGlyphs" stroke="#fff" stroke-width="3" paint-order="stroke">Bmax</text>
<text x="587" y="303.4" font-size="10.5" class="th" textLength="24" lengthAdjust="spacingAndGlyphs" stroke="#fff" stroke-width="3" paint-order="stroke">Hmax</text>
<text x="527" y="213.8" font-size="8" class="th" textLength="13.5" lengthAdjust="spacingAndGlyphs">PM1</text>
<text x="433.7" y="286.6" font-size="10.5" class="th" text-anchor="middle" stroke="#fff" stroke-width="3" paint-order="stroke">h2</text>
<text x="433.7" y="332.5" font-size="10.5" class="th" text-anchor="middle" stroke="#fff" stroke-width="3" paint-order="stroke">h1</text>
<text x="453.2" y="280" font-size="10" class="th" text-anchor="middle" >C</text>
<text x="444.5" y="365.5" font-size="10.5" class="th" text-anchor="middle" >g1</text>
<text x="553.5" y="246.6" font-size="5.5" class="th" text-anchor="middle" >F</text>
<text x="530.5" y="390" font-size="8" class="th" text-anchor="middle" >E</text>
<!-- feet -->
<g stroke="#1a1a1a" fill="none" stroke-width="0.85">
<path d="M120.7 419 L160.5 419 L160.5 424.9 L157 424.9 A3.5 4 0 0 0 157 432.9 L160.5 432.9 L160.5 438.6 L120.7 438.6 L120.7 432.9 L124 432.9 A3.5 4 0 0 0 124 424.9 L120.7 424.9 Z" stroke-width="1"/>
<circle cx="126" cy="428.9" r="2" stroke-width="0.7"/><circle cx="155" cy="428.9" r="2" stroke-width="0.7"/>
<path d="M120.7 498 L160.5 498 L160.5 503.2 L157 503.2 A3.5 4 0 0 0 157 511.2 L160.5 511.2 L160.5 516.8 L120.7 516.8 L120.7 511.2 L124 511.2 A3.5 4 0 0 0 124 503.2 L120.7 503.2 Z" stroke-width="1"/>
<circle cx="126" cy="507.2" r="2" stroke-width="0.7"/><circle cx="155" cy="507.2" r="2" stroke-width="0.7"/>
<line x1="91.5" y1="419" x2="175.8" y2="419"/>
<line x1="91.5" y1="516.8" x2="120.7" y2="516.8"/>
<line x1="94.4" y1="419" x2="94.4" y2="516.8"/>
<line x1="104.6" y1="428.9" x2="104.6" y2="507.8"/>
<line x1="104.6" y1="428.9" x2="124" y2="428.9"/><line x1="104.6" y1="507.8" x2="124" y2="507.8"/>
<line x1="140.6" y1="415.5" x2="140.6" y2="520"/>
<line x1="121" y1="468.4" x2="223" y2="468.4"/><line x1="228" y1="468.4" x2="236.4" y2="468.4"/><line x1="241.3" y1="468.4" x2="317.8" y2="468.4"/>
<line x1="126" y1="441" x2="126" y2="457"/><line x1="155" y1="441" x2="155" y2="457"/>
<line x1="112" y1="454.4" x2="126" y2="454.4"/><line x1="155" y1="454.4" x2="169" y2="454.4"/>
<line x1="160.5" y1="438.6" x2="176" y2="438.6"/>
<line x1="173.3" y1="405.8" x2="173.3" y2="419"/><line x1="173.3" y1="438.6" x2="173.3" y2="453"/>
<line x1="160.5" y1="504.6" x2="181" y2="504.6"/><line x1="160.5" y1="509.5" x2="181" y2="509.5"/>
<line x1="176.5" y1="491" x2="176.5" y2="504.6"/><line x1="176.5" y1="509.5" x2="176.5" y2="523"/>
<line x1="120.7" y1="516.8" x2="120.7" y2="543"/><line x1="160.5" y1="516.8" x2="160.5" y2="543"/>
<line x1="120.7" y1="539.3" x2="132" y2="539.3"/><line x1="144" y1="539.3" x2="160.5" y2="539.3"/>
<rect x="224.3" y="409.4" width="16.5" height="21.400000000000034" rx="1.5" stroke-width="1"/>
<line x1="224.3" y1="409.4" x2="244.4" y2="409.4" stroke-width="1.3"/>
<rect x="305.6" y="409.4" width="15.799999999999955" height="21.400000000000034" rx="1.5" stroke-width="1"/>
<line x1="302" y1="409.4" x2="321.4" y2="409.4" stroke-width="1.3"/>
<rect x="224.3" y="506.6" width="16.5" height="21.799999999999955" rx="1.5" stroke-width="1"/>
<line x1="224.3" y1="528.4" x2="244.4" y2="528.4" stroke-width="1.3"/>
<rect x="305.6" y="506.6" width="15.799999999999955" height="21.799999999999955" rx="1.5" stroke-width="1"/>
<line x1="302" y1="528.4" x2="321.4" y2="528.4" stroke-width="1.3"/>
<circle cx="231.6" cy="424" r="2.4" stroke-width="1.5"/><line x1="231.6" y1="421.4" x2="231.6" y2="426.6" stroke-width="0.6"/>
<circle cx="313.6" cy="424" r="2.4" stroke-width="1.5"/><line x1="313.6" y1="421.4" x2="313.6" y2="426.6" stroke-width="0.6"/>
<circle cx="231.6" cy="513.8" r="2.4" stroke-width="1.5"/><line x1="231.6" y1="511.19999999999993" x2="231.6" y2="516.4" stroke-width="0.6"/>
<circle cx="313.6" cy="513.8" r="2.4" stroke-width="1.5"/><line x1="313.6" y1="511.19999999999993" x2="313.6" y2="516.4" stroke-width="0.6"/>
<line x1="209.7" y1="409.4" x2="224.3" y2="409.4"/><line x1="209.7" y1="430.8" x2="224.3" y2="430.8"/>
<line x1="213.4" y1="394.9" x2="213.4" y2="409.4"/><line x1="213.4" y1="430.8" x2="213.4" y2="444.6"/>
<line x1="229.6" y1="478.6" x2="229.6" y2="504"/><line x1="233.5" y1="478.6" x2="233.5" y2="504"/>
<line x1="215.8" y1="481.8" x2="229.6" y2="481.8"/><line x1="233.5" y1="481.8" x2="248.6" y2="481.8"/>
<line x1="321.4" y1="424" x2="334.8" y2="424"/><line x1="321.4" y1="513.8" x2="334.8" y2="513.8"/>
<line x1="321.4" y1="409.4" x2="353" y2="409.4"/><line x1="321.4" y1="528.4" x2="353" y2="528.4"/>
<line x1="331.9" y1="424" x2="331.9" y2="462"/><line x1="331.9" y1="475" x2="331.9" y2="513.8"/>
<line x1="350" y1="409.4" x2="350" y2="462"/><line x1="350" y1="475" x2="350" y2="528.4"/>
<line x1="224.3" y1="528.4" x2="224.3" y2="538.6"/><line x1="321.4" y1="528.4" x2="321.4" y2="538.6"/>
<line x1="224.3" y1="535.7" x2="256" y2="535.7"/><line x1="285" y1="535.7" x2="321.4" y2="535.7"/>
</g>
<g fill="#111">
<path d="M94.4 419 l-1.9 8 h3.8 z"/>
<path d="M94.4 516.8 l-1.9 -8 h3.8 z"/>
<path d="M104.6 428.9 l-1.9 8 h3.8 z"/>
<path d="M104.6 507.8 l-1.9 -8 h3.8 z"/>
<path d="M126 454.4 l-8 -1.9 v3.8 z"/>
<path d="M155 454.4 l8 -1.9 v3.8 z"/>
<path d="M173.3 419 l-1.9 -8 h3.8 z"/>
<path d="M173.3 438.6 l-1.9 8 h3.8 z"/>
<path d="M176.5 504.6 l-1.9 -8 h3.8 z"/>
<path d="M176.5 509.5 l-1.9 8 h3.8 z"/>
<path d="M120.7 539.3 l8 -1.9 v3.8 z"/>
<path d="M160.5 539.3 l-8 -1.9 v3.8 z"/>
<path d="M213.4 409.4 l-1.9 -8 h3.8 z"/>
<path d="M213.4 430.8 l-1.9 8 h3.8 z"/>
<path d="M229.6 481.8 l-8 -1.9 v3.8 z"/>
<path d="M233.5 481.8 l8 -1.9 v3.8 z"/>
<path d="M331.9 424 l-1.9 8 h3.8 z"/>
<path d="M331.9 513.8 l-1.9 -8 h3.8 z"/>
<path d="M350 409.4 l-1.9 8 h3.8 z"/>
<path d="M350 528.4 l-1.9 -8 h3.8 z"/>
<path d="M224.3 535.7 l8 -1.9 v3.8 z"/>
<path d="M321.4 535.7 l-8 -1.9 v3.8 z"/>
</g>
<text x="81" y="472.6" font-size="10" class="th" textLength="11" lengthAdjust="spacingAndGlyphs">n1</text>
<text x="99.3" y="472.6" font-size="10" class="th" textLength="12.1" lengthAdjust="spacingAndGlyphs">n2</text>
<text x="133.3" y="460" font-size="10" class="th" textLength="13.3" lengthAdjust="spacingAndGlyphs">m2</text>
<text x="169.7" y="431.8" font-size="10" class="th" textLength="5" lengthAdjust="spacingAndGlyphs">b</text>
<text x="170.2" y="489.6" font-size="10" class="th" textLength="11.2" lengthAdjust="spacingAndGlyphs">s1</text>
<text x="132" y="542.5" font-size="10" class="th" textLength="11.5" lengthAdjust="spacingAndGlyphs">m1</text>
<text x="207.3" y="424" font-size="10" class="th" textLength="12.9" lengthAdjust="spacingAndGlyphs">AA</text>
<text x="252.2" y="486" font-size="10" class="th" textLength="12.2" lengthAdjust="spacingAndGlyphs">s2</text>
<text x="328.5" y="472.6" font-size="10" class="th" textLength="7" lengthAdjust="spacingAndGlyphs">A</text>
<text x="344.5" y="472.6" font-size="10" class="th" textLength="12.1" lengthAdjust="spacingAndGlyphs">AB</text>
<text x="266.8" y="538.9" font-size="10" class="th" textLength="12.2" lengthAdjust="spacingAndGlyphs">BB</text>
<!-- notes -->
<text x="312.4" y="581.6" class="mono" font-size="11" textLength="106.7" lengthAdjust="spacingAndGlyphs">EN1092-2, PN 16 *)</text>
<text x="453.2" y="581.2" class="mono" font-size="11" textLength="159.9" lengthAdjust="spacingAndGlyphs">ASME B16.5, Class 150 RF *)</text>
<text x="460" y="407.8" class="mono" font-size="9.6" textLength="143" lengthAdjust="spacingAndGlyphs">PM1..Pressure gauge connector</text>
<text x="460" y="417.3" class="mono" font-size="9.6" textLength="49" lengthAdjust="spacingAndGlyphs">E....Drain</text>
<text x="460" y="426.8" class="mono" font-size="9.6" textLength="58.8" lengthAdjust="spacingAndGlyphs">F....Filling</text>
<text x="460" y="436.3" class="mono" font-size="9.6" textLength="132.5" lengthAdjust="spacingAndGlyphs">*)...Value C and D may vary</text>
<text x="483.7" y="445.8" class="mono" font-size="9.6" textLength="63.9" lengthAdjust="spacingAndGlyphs">from standard</text>
<!-- connections table -->
<rect x="459.5" y="452" width="157.5" height="74.3" fill="none" stroke="#222" stroke-width="1.1"/>
<line x1="459.5" y1="467.5" x2="617" y2="467.5" stroke="#333"/>
<line x1="459.5" y1="482.5" x2="617" y2="482.5" stroke="#333"/>
<line x1="459.5" y1="497.5" x2="617" y2="497.5" stroke="#333"/>
<line x1="459.5" y1="511.8" x2="617" y2="511.8" stroke="#333"/>
<line x1="504.5" y1="467.5" x2="504.5" y2="526.3" stroke="#333"/>
<line x1="560.5" y1="467.5" x2="560.5" y2="526.3" stroke="#333"/>
<text x="508.7" y="463.7" class="mono" font-size="11.5" textLength="65" lengthAdjust="spacingAndGlyphs">Connections</text>
<text x="513.7" y="479.5" class="mono" font-size="9.5" textLength="38.8" lengthAdjust="spacingAndGlyphs">DN<tspan font-size="6" dy="1">D</tspan><tspan dy="-1">≤150</tspan></text>
<text x="569.5" y="479.5" class="mono" font-size="9.5" textLength="38.8" lengthAdjust="spacingAndGlyphs">DN<tspan font-size="6" dy="1">D</tspan><tspan dy="-1">≥200</tspan></text>
<text x="482.5" y="493" class="mono" font-size="9.5" text-anchor="middle" textLength="15" lengthAdjust="spacingAndGlyphs">PM1</text>
<text x="482.5" y="507.5" class="mono" font-size="9.5" text-anchor="middle">E</text>
<text x="482.5" y="521.8" class="mono" font-size="9.5" text-anchor="middle">F</text>
<text x="532.5" y="493" class="mono" font-size="9.5" text-anchor="middle" textLength="18" lengthAdjust="spacingAndGlyphs">1/4"</text>
<text x="532.5" y="507.5" class="mono" font-size="9.5" text-anchor="middle" textLength="18" lengthAdjust="spacingAndGlyphs">3/8"</text>
<text x="532.5" y="521.8" class="mono" font-size="9.5" text-anchor="middle" textLength="18" lengthAdjust="spacingAndGlyphs">3/8"</text>
<text x="588.7" y="493" class="mono" font-size="9.5" text-anchor="middle" textLength="18" lengthAdjust="spacingAndGlyphs">1/2"</text>
<text x="588.7" y="507.5" class="mono" font-size="9.5" text-anchor="middle" textLength="18" lengthAdjust="spacingAndGlyphs">1/2"</text>
<text x="588.7" y="521.8" class="mono" font-size="9.5" text-anchor="middle">-</text>
<!-- Type boxes -->
<rect x="343" y="1.2" width="70" height="20.2" fill="none" stroke="#333" stroke-width="1"/>
<text x="348.9" y="17.2" class="bs" font-size="16" textLength="59" lengthAdjust="spacingAndGlyphs" style="white-space:pre">TYPE  A</text>
<rect x="367" y="162.5" width="70" height="19.5" fill="none" stroke="#333" stroke-width="1"/>
<text x="371.7" y="178.3" class="bs" font-size="16" textLength="58.3" lengthAdjust="spacingAndGlyphs" style="white-space:pre">TYPE  B</text>
<text x="125.9" y="587" class="mono" font-size="12.5" textLength="40.5" lengthAdjust="spacingAndGlyphs">Flange</text>

<!-- flange -->
<g stroke="#1a1a1a" fill="none" stroke-width="0.9">
<circle cx="138.4" cy="647.9" r="40" stroke-width="1.1"/>
<circle cx="138.4" cy="647.9" r="29.2"/>
<circle cx="138.4" cy="647.9" r="20.9" stroke-width="1.1"/>
<circle cx="169.3" cy="660.7" r="3.2"/>
<line x1="171.6" y1="655.2" x2="167.1" y2="666.3" stroke-width="0.7"/>
<line x1="164.7" y1="658.8" x2="174.0" y2="662.6" stroke-width="0.7"/>
<circle cx="151.2" cy="678.8" r="3.2"/>
<line x1="156.8" y1="676.6" x2="145.7" y2="681.1" stroke-width="0.7"/>
<line x1="149.3" y1="674.2" x2="153.1" y2="683.5" stroke-width="0.7"/>
<circle cx="125.6" cy="678.8" r="3.2"/>
<line x1="131.1" y1="681.1" x2="120.0" y2="676.6" stroke-width="0.7"/>
<line x1="127.5" y1="674.2" x2="123.7" y2="683.5" stroke-width="0.7"/>
<circle cx="107.5" cy="660.7" r="3.2"/>
<line x1="109.7" y1="666.3" x2="105.2" y2="655.2" stroke-width="0.7"/>
<line x1="112.1" y1="658.8" x2="102.8" y2="662.6" stroke-width="0.7"/>
<circle cx="107.5" cy="635.1" r="3.2"/>
<line x1="105.2" y1="640.6" x2="109.7" y2="629.5" stroke-width="0.7"/>
<line x1="112.1" y1="637.0" x2="102.8" y2="633.2" stroke-width="0.7"/>
<circle cx="125.6" cy="617.0" r="3.2"/>
<line x1="120.0" y1="619.2" x2="131.1" y2="614.7" stroke-width="0.7"/>
<line x1="127.5" y1="621.6" x2="123.7" y2="612.3" stroke-width="0.7"/>
<circle cx="151.2" cy="617.0" r="3.2"/>
<line x1="145.7" y1="614.7" x2="156.8" y2="619.2" stroke-width="0.7"/>
<line x1="149.3" y1="621.6" x2="153.1" y2="612.3" stroke-width="0.7"/>
<circle cx="169.3" cy="635.1" r="3.2"/>
<line x1="167.1" y1="629.5" x2="171.6" y2="640.6" stroke-width="0.7"/>
<line x1="164.7" y1="637.0" x2="174.0" y2="633.2" stroke-width="0.7"/>
<line x1="90.7" y1="647.9" x2="186.4" y2="647.9" stroke-dasharray="30,2,4,2,60"/>
<line x1="138.4" y1="599.3" x2="138.4" y2="695" stroke-dasharray="40,2,4,2,60"/>
<line x1="138.4" y1="607.9" x2="248" y2="607.9" stroke-width="0.8"/>
<line x1="138.4" y1="614" x2="234" y2="614" stroke-width="0.8"/>
<line x1="138.4" y1="618.4" x2="218" y2="618.4" stroke-width="0.8"/>
<line x1="138.4" y1="626.4" x2="204" y2="626.4" stroke-width="0.8"/>
<line x1="138.4" y1="669.3" x2="204" y2="669.3" stroke-width="0.8"/>
<line x1="138.4" y1="677.9" x2="218" y2="677.9" stroke-width="0.8"/>
<line x1="138.4" y1="681.6" x2="234" y2="681.6" stroke-width="0.8"/>
<line x1="138.4" y1="687.9" x2="248" y2="687.9" stroke-width="0.8"/>
<line x1="200.7" y1="626.4" x2="200.7" y2="669.3"/>
<line x1="215" y1="618.4" x2="215" y2="677.9"/>
<line x1="230.7" y1="614" x2="230.7" y2="681.6"/>
<line x1="245" y1="607.9" x2="245" y2="687.9"/>
<line x1="102" y1="694" x2="139.8" y2="667.7"/>
</g>
<g fill="#111">
<path d="M200.7 626.4 l-1.9 8 h3.8 z"/>
<path d="M200.7 669.3 l-1.9 -8 h3.8 z"/>
<path d="M215 618.4 l-1.9 8 h3.8 z"/>
<path d="M215 677.9 l-1.9 -8 h3.8 z"/>
<path d="M230.7 614 l-1.9 8 h3.8 z"/>
<path d="M230.7 681.6 l-1.9 -8 h3.8 z"/>
<path d="M245 607.9 l-1.9 8 h3.8 z"/>
<path d="M245 687.9 l-1.9 -8 h3.8 z"/>
<path d="M125 676 l6 -5.5 l1.5 2.2 z M128.5 672.5 l-6 5.5 l-1.5 -2.2 z"/>
</g>
<g fill="#fff" stroke="none">
<rect x="190" y="635.9" width="10" height="24"/>
<rect x="204.9" y="637.9" width="10" height="20"/>
<rect x="220" y="637.9" width="10" height="20"/>
<rect x="234.3" y="637.9" width="10" height="20"/>
</g>
<text transform="translate(200.5,647.9) rotate(-90)" font-size="12" class="bs" text-anchor="middle" textLength="18" lengthAdjust="spacingAndGlyphs">DN</text>
<text transform="translate(214.8,647.9) rotate(-90)" font-size="12" class="bs" text-anchor="middle" textLength="12" lengthAdjust="spacingAndGlyphs">df</text>
<text transform="translate(230.5,647.9) rotate(-90)" font-size="12" class="bs" text-anchor="middle" textLength="9" lengthAdjust="spacingAndGlyphs">K</text>
<text transform="translate(244.8,647.9) rotate(-90)" font-size="12" class="bs" text-anchor="middle" textLength="9" lengthAdjust="spacingAndGlyphs">D</text>
<text transform="translate(104,694) rotate(-35)" font-size="12" class="bs" text-anchor="middle">L</text>
<rect x="286.7" y="569.7" width="329.8" height="117.5" fill="none" stroke="#222" stroke-width="1.2"/>
<line x1="286.7" y1="585.7" x2="616.5" y2="585.7" stroke="#333" stroke-width="1"/>
<line x1="286.7" y1="600.2" x2="616.5" y2="600.2" stroke="#333" stroke-width="1"/>
<line x1="286.7" y1="614.7" x2="616.5" y2="614.7" stroke="#333" stroke-width="1"/>
<line x1="286.7" y1="629.2" x2="616.5" y2="629.2" stroke="#333" stroke-width="1"/>
<line x1="286.7" y1="643.7" x2="616.5" y2="643.7" stroke="#333" stroke-width="1"/>
<line x1="286.7" y1="658.2" x2="616.5" y2="658.2" stroke="#333" stroke-width="1"/>
<line x1="286.7" y1="672.7" x2="616.5" y2="672.7" stroke="#333" stroke-width="1"/>
<line x1="443" y1="569.7" x2="443" y2="687.2" stroke="#333" stroke-width="1"/>
<line x1="309.9" y1="585.7" x2="309.9" y2="687.2" stroke="#333" stroke-width="1"/>
<line x1="336.3" y1="585.7" x2="336.3" y2="687.2" stroke="#333" stroke-width="1"/>
<line x1="363.1" y1="585.7" x2="363.1" y2="687.2" stroke="#333" stroke-width="1"/>
<line x1="385.7" y1="585.7" x2="385.7" y2="687.2" stroke="#333" stroke-width="1"/>
<line x1="411.9" y1="585.7" x2="411.9" y2="687.2" stroke="#333" stroke-width="1"/>
<line x1="477.5" y1="585.7" x2="477.5" y2="687.2" stroke="#333" stroke-width="1"/>
<line x1="504.2" y1="585.7" x2="504.2" y2="687.2" stroke="#333" stroke-width="1"/>
<line x1="537.3" y1="585.7" x2="537.3" y2="687.2" stroke="#333" stroke-width="1"/>
<line x1="559.5" y1="585.7" x2="559.5" y2="687.2" stroke="#333" stroke-width="1"/>
<line x1="586.7" y1="585.7" x2="586.7" y2="687.2" stroke="#333" stroke-width="1"/>
<text x="298.3" y="596.2" text-anchor="middle" class="tb" font-size="9.2" textLength="9.2" lengthAdjust="spacingAndGlyphs">DN</text>
<text x="323.1" y="596.2" text-anchor="middle" class="tb" font-size="9.2" textLength="4.6" lengthAdjust="spacingAndGlyphs">D</text>
<text x="349.7" y="596.2" text-anchor="middle" class="tb" font-size="9.2" textLength="4.6" lengthAdjust="spacingAndGlyphs">K</text>
<text x="374.4" y="596.2" text-anchor="middle" class="tb" font-size="9.2" textLength="4.6" lengthAdjust="spacingAndGlyphs">C</text>
<text x="398.8" y="596.2" text-anchor="middle" class="tb" font-size="9.2" textLength="9.2" lengthAdjust="spacingAndGlyphs">df</text>
<text x="427.4" y="596.2" text-anchor="middle" class="tb" font-size="9.2" textLength="4.6" lengthAdjust="spacingAndGlyphs">L</text>
<text x="298.3" y="611.2" text-anchor="middle" class="tb" font-size="10" textLength="15.0" lengthAdjust="spacingAndGlyphs">100</text>
<text x="323.1" y="611.2" text-anchor="middle" class="tb" font-size="10" textLength="15.0" lengthAdjust="spacingAndGlyphs">230</text>
<text x="349.7" y="611.2" text-anchor="middle" class="tb" font-size="10" textLength="15.0" lengthAdjust="spacingAndGlyphs">180</text>
<text x="374.4" y="611.2" text-anchor="middle" class="tb" font-size="10" textLength="10.0" lengthAdjust="spacingAndGlyphs">24</text>
<text x="398.8" y="611.2" text-anchor="middle" class="tb" font-size="10" textLength="15.0" lengthAdjust="spacingAndGlyphs">157</text>
<text x="427.4" y="611.2" text-anchor="middle" class="tb" font-size="10" textLength="20.0" lengthAdjust="spacingAndGlyphs">8x19</text>
<text x="298.3" y="625.7" text-anchor="middle" class="tb" font-size="10" textLength="15.0" lengthAdjust="spacingAndGlyphs">125</text>
<text x="323.1" y="625.7" text-anchor="middle" class="tb" font-size="10" textLength="15.0" lengthAdjust="spacingAndGlyphs">255</text>
<text x="349.7" y="625.7" text-anchor="middle" class="tb" font-size="10" textLength="15.0" lengthAdjust="spacingAndGlyphs">210</text>
<text x="374.4" y="625.7" text-anchor="middle" class="tb" font-size="10" textLength="10.0" lengthAdjust="spacingAndGlyphs">26</text>
<text x="398.8" y="625.7" text-anchor="middle" class="tb" font-size="10" textLength="15.0" lengthAdjust="spacingAndGlyphs">184</text>
<text x="427.4" y="625.7" text-anchor="middle" class="tb" font-size="10" textLength="20.0" lengthAdjust="spacingAndGlyphs">8x19</text>
<text x="298.3" y="640.2" text-anchor="middle" class="tb" font-size="10" textLength="15.0" lengthAdjust="spacingAndGlyphs">150</text>
<text x="323.1" y="640.2" text-anchor="middle" class="tb" font-size="10" textLength="15.0" lengthAdjust="spacingAndGlyphs">285</text>
<text x="349.7" y="640.2" text-anchor="middle" class="tb" font-size="10" textLength="15.0" lengthAdjust="spacingAndGlyphs">240</text>
<text x="374.4" y="640.2" text-anchor="middle" class="tb" font-size="10" textLength="10.0" lengthAdjust="spacingAndGlyphs">26</text>
<text x="398.8" y="640.2" text-anchor="middle" class="tb" font-size="10" textLength="15.0" lengthAdjust="spacingAndGlyphs">211</text>
<text x="427.4" y="640.2" text-anchor="middle" class="tb" font-size="10" textLength="20.0" lengthAdjust="spacingAndGlyphs">8x23</text>
<text x="298.3" y="654.7" text-anchor="middle" class="tb" font-size="10" textLength="15.0" lengthAdjust="spacingAndGlyphs">200</text>
<text x="323.1" y="654.7" text-anchor="middle" class="tb" font-size="10" textLength="15.0" lengthAdjust="spacingAndGlyphs">345</text>
<text x="349.7" y="654.7" text-anchor="middle" class="tb" font-size="10" textLength="15.0" lengthAdjust="spacingAndGlyphs">295</text>
<text x="374.4" y="654.7" text-anchor="middle" class="tb" font-size="10" textLength="10.0" lengthAdjust="spacingAndGlyphs">30</text>
<text x="398.8" y="654.7" text-anchor="middle" class="tb" font-size="10" textLength="15.0" lengthAdjust="spacingAndGlyphs">266</text>
<text x="427.4" y="654.7" text-anchor="middle" class="tb" font-size="10" textLength="25.0" lengthAdjust="spacingAndGlyphs">12x23</text>
<text x="298.3" y="669.2" text-anchor="middle" class="tb" font-size="10" textLength="15.0" lengthAdjust="spacingAndGlyphs">250</text>
<text x="323.1" y="669.2" text-anchor="middle" class="tb" font-size="10" textLength="15.0" lengthAdjust="spacingAndGlyphs">405</text>
<text x="349.7" y="669.2" text-anchor="middle" class="tb" font-size="10" textLength="15.0" lengthAdjust="spacingAndGlyphs">355</text>
<text x="374.4" y="669.2" text-anchor="middle" class="tb" font-size="10" textLength="10.0" lengthAdjust="spacingAndGlyphs">32</text>
<text x="398.8" y="669.2" text-anchor="middle" class="tb" font-size="10" textLength="15.0" lengthAdjust="spacingAndGlyphs">319</text>
<text x="427.4" y="669.2" text-anchor="middle" class="tb" font-size="10" textLength="25.0" lengthAdjust="spacingAndGlyphs">12x28</text>
<text x="298.3" y="683.7" text-anchor="middle" class="tb" font-size="10" textLength="15.0" lengthAdjust="spacingAndGlyphs">300</text>
<text x="323.1" y="683.7" text-anchor="middle" class="tb" font-size="10" textLength="15.0" lengthAdjust="spacingAndGlyphs">485</text>
<text x="349.7" y="683.7" text-anchor="middle" class="tb" font-size="10" textLength="15.0" lengthAdjust="spacingAndGlyphs">410</text>
<text x="374.4" y="683.7" text-anchor="middle" class="tb" font-size="10" textLength="10.0" lengthAdjust="spacingAndGlyphs">32</text>
<text x="398.8" y="683.7" text-anchor="middle" class="tb" font-size="10" textLength="15.0" lengthAdjust="spacingAndGlyphs">370</text>
<text x="427.4" y="683.7" text-anchor="middle" class="tb" font-size="10" textLength="25.0" lengthAdjust="spacingAndGlyphs">12x28</text>
<text x="460.2" y="596.2" text-anchor="middle" class="tb" font-size="9.2" textLength="9.2" lengthAdjust="spacingAndGlyphs">DN</text>
<text x="490.9" y="596.2" text-anchor="middle" class="tb" font-size="9.2" textLength="4.6" lengthAdjust="spacingAndGlyphs">D</text>
<text x="520.8" y="596.2" text-anchor="middle" class="tb" font-size="9.2" textLength="4.6" lengthAdjust="spacingAndGlyphs">K</text>
<text x="548.4" y="596.2" text-anchor="middle" class="tb" font-size="9.2" textLength="4.6" lengthAdjust="spacingAndGlyphs">C</text>
<text x="573.1" y="596.2" text-anchor="middle" class="tb" font-size="9.2" textLength="9.2" lengthAdjust="spacingAndGlyphs">df</text>
<text x="601.6" y="596.2" text-anchor="middle" class="tb" font-size="9.2" textLength="4.6" lengthAdjust="spacingAndGlyphs">L</text>
<text x="460.2" y="611.2" text-anchor="middle" class="tb" font-size="10" textLength="5.0" lengthAdjust="spacingAndGlyphs">4</text>
<text x="490.9" y="611.2" text-anchor="middle" class="tb" font-size="10" textLength="15.0" lengthAdjust="spacingAndGlyphs">230</text>
<text x="520.8" y="611.2" text-anchor="middle" class="tb" font-size="10" textLength="25.0" lengthAdjust="spacingAndGlyphs">190,5</text>
<text x="548.4" y="611.2" text-anchor="middle" class="tb" font-size="10" textLength="10.0" lengthAdjust="spacingAndGlyphs">24</text>
<text x="573.1" y="611.2" text-anchor="middle" class="tb" font-size="10" textLength="15.0" lengthAdjust="spacingAndGlyphs">157</text>
<text x="601.6" y="611.2" text-anchor="middle" class="tb" font-size="10" textLength="20.0" lengthAdjust="spacingAndGlyphs">8x18</text>
<text x="460.2" y="625.7" text-anchor="middle" class="tb" font-size="10" textLength="5.0" lengthAdjust="spacingAndGlyphs">5</text>
<text x="490.9" y="625.7" text-anchor="middle" class="tb" font-size="10" textLength="15.0" lengthAdjust="spacingAndGlyphs">255</text>
<text x="520.8" y="625.7" text-anchor="middle" class="tb" font-size="10" textLength="15.0" lengthAdjust="spacingAndGlyphs">216</text>
<text x="548.4" y="625.7" text-anchor="middle" class="tb" font-size="10" textLength="10.0" lengthAdjust="spacingAndGlyphs">26</text>
<text x="573.1" y="625.7" text-anchor="middle" class="tb" font-size="10" textLength="15.0" lengthAdjust="spacingAndGlyphs">186</text>
<text x="601.6" y="625.7" text-anchor="middle" class="tb" font-size="10" textLength="20.0" lengthAdjust="spacingAndGlyphs">8x22</text>
<text x="460.2" y="640.2" text-anchor="middle" class="tb" font-size="10" textLength="5.0" lengthAdjust="spacingAndGlyphs">6</text>
<text x="490.9" y="640.2" text-anchor="middle" class="tb" font-size="10" textLength="15.0" lengthAdjust="spacingAndGlyphs">285</text>
<text x="520.8" y="640.2" text-anchor="middle" class="tb" font-size="10" textLength="25.0" lengthAdjust="spacingAndGlyphs">241,5</text>
<text x="548.4" y="640.2" text-anchor="middle" class="tb" font-size="10" textLength="10.0" lengthAdjust="spacingAndGlyphs">26</text>
<text x="573.1" y="640.2" text-anchor="middle" class="tb" font-size="10" textLength="15.0" lengthAdjust="spacingAndGlyphs">216</text>
<text x="601.6" y="640.2" text-anchor="middle" class="tb" font-size="10" textLength="20.0" lengthAdjust="spacingAndGlyphs">8x22</text>
<text x="460.2" y="654.7" text-anchor="middle" class="tb" font-size="10" textLength="5.0" lengthAdjust="spacingAndGlyphs">8</text>
<text x="490.9" y="654.7" text-anchor="middle" class="tb" font-size="10" textLength="15.0" lengthAdjust="spacingAndGlyphs">345</text>
<text x="520.8" y="654.7" text-anchor="middle" class="tb" font-size="10" textLength="25.0" lengthAdjust="spacingAndGlyphs">298,5</text>
<text x="548.4" y="654.7" text-anchor="middle" class="tb" font-size="10" textLength="10.0" lengthAdjust="spacingAndGlyphs">30</text>
<text x="573.1" y="654.7" text-anchor="middle" class="tb" font-size="10" textLength="15.0" lengthAdjust="spacingAndGlyphs">270</text>
<text x="601.6" y="654.7" text-anchor="middle" class="tb" font-size="10" textLength="20.0" lengthAdjust="spacingAndGlyphs">8x22</text>
<text x="460.2" y="669.2" text-anchor="middle" class="tb" font-size="10" textLength="10.0" lengthAdjust="spacingAndGlyphs">10</text>
<text x="490.9" y="669.2" text-anchor="middle" class="tb" font-size="10" textLength="15.0" lengthAdjust="spacingAndGlyphs">405</text>
<text x="520.8" y="669.2" text-anchor="middle" class="tb" font-size="10" textLength="15.0" lengthAdjust="spacingAndGlyphs">362</text>
<text x="548.4" y="669.2" text-anchor="middle" class="tb" font-size="10" textLength="10.0" lengthAdjust="spacingAndGlyphs">32</text>
<text x="573.1" y="669.2" text-anchor="middle" class="tb" font-size="10" textLength="15.0" lengthAdjust="spacingAndGlyphs">324</text>
<text x="601.6" y="669.2" text-anchor="middle" class="tb" font-size="10" textLength="25.0" lengthAdjust="spacingAndGlyphs">12x26</text>
<text x="460.2" y="683.7" text-anchor="middle" class="tb" font-size="10" textLength="10.0" lengthAdjust="spacingAndGlyphs">12</text>
<text x="490.9" y="683.7" text-anchor="middle" class="tb" font-size="10" textLength="15.0" lengthAdjust="spacingAndGlyphs">485</text>
<text x="520.8" y="683.7" text-anchor="middle" class="tb" font-size="10" textLength="15.0" lengthAdjust="spacingAndGlyphs">432</text>
<text x="548.4" y="683.7" text-anchor="middle" class="tb" font-size="10" textLength="10.0" lengthAdjust="spacingAndGlyphs">32</text>
<text x="573.1" y="683.7" text-anchor="middle" class="tb" font-size="10" textLength="15.0" lengthAdjust="spacingAndGlyphs">381</text>
<text x="601.6" y="683.7" text-anchor="middle" class="tb" font-size="10" textLength="25.0" lengthAdjust="spacingAndGlyphs">12x26</text>
</svg></body></html>
